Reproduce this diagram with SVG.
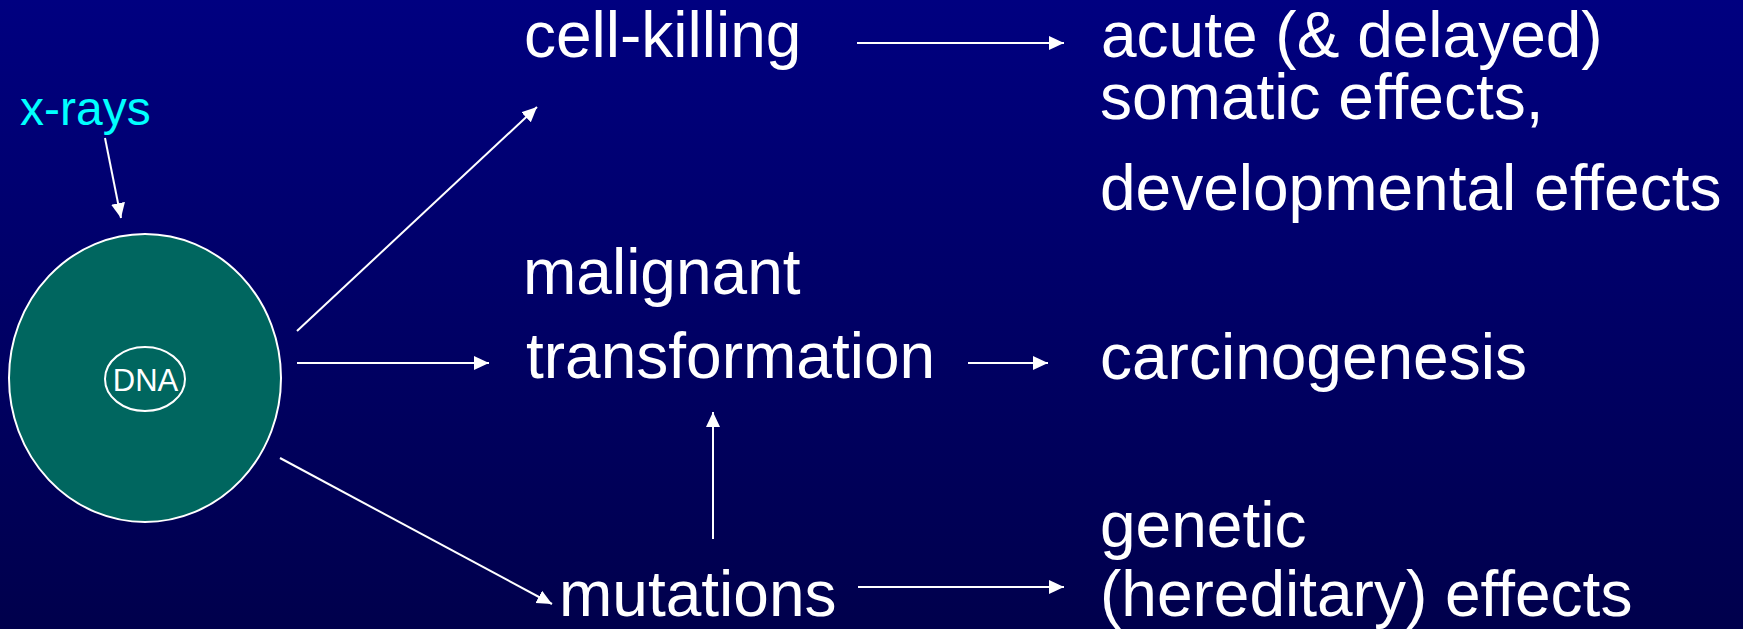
<svg xmlns="http://www.w3.org/2000/svg" width="1743" height="629" viewBox="0 0 1743 629">
  <defs>
    <linearGradient id="bg" x1="0" y1="0" x2="0" y2="1">
      <stop offset="0" stop-color="#000080"/>
      <stop offset="1" stop-color="#00004c"/>
    </linearGradient>
    <marker id="arrow" markerUnits="userSpaceOnUse" markerWidth="16" markerHeight="16" refX="15" refY="7" orient="auto">
      <path d="M0,0 L15,7 L0,14 Z" fill="#ffffff"/>
    </marker>
  </defs>
  <style>
    .lbl { font-family: "Liberation Sans", Arial, sans-serif; font-size: 64px; fill: #ffffff; }
    .conn line { stroke: #ffffff; stroke-width: 2; marker-end: url(#arrow); }
  </style>

  <rect x="0" y="0" width="1743" height="629" fill="url(#bg)"/>

  <!-- radiation source -->
  <g id="xrays">
    <text x="20" y="125" font-family="Liberation Sans, Arial, sans-serif" font-size="48" fill="#00ffff">x-rays</text>
  </g>

  <!-- cell with DNA -->
  <g id="cell">
    <ellipse cx="145" cy="378" rx="136" ry="144" fill="#00665f" stroke="#ffffff" stroke-width="2"/>
    <ellipse cx="145" cy="379" rx="40" ry="32" fill="none" stroke="#ffffff" stroke-width="2"/>
    <text x="145.5" y="391" text-anchor="middle" font-family="Liberation Sans, Arial, sans-serif" font-size="31" fill="#ffffff">DNA</text>
  </g>

  <!-- direct outcomes -->
  <g id="cell-killing"><text class="lbl" x="524" y="57">cell-killing</text></g>
  <g id="transformation">
    <text class="lbl" x="523" y="294">malignant</text>
    <text class="lbl" x="526" y="378">transformation</text>
  </g>
  <g id="mutations"><text class="lbl" x="559" y="616">mutations</text></g>

  <!-- health effects -->
  <g id="somatic">
    <text class="lbl" x="1101" y="57">acute (&amp; delayed)</text>
    <text class="lbl" x="1100" y="119">somatic effects,</text>
    <text class="lbl" x="1100" y="210">developmental effects</text>
  </g>
  <g id="carcinogenesis"><text class="lbl" x="1100" y="379">carcinogenesis</text></g>
  <g id="genetic">
    <text class="lbl" x="1100" y="547">genetic</text>
    <text class="lbl" x="1100" y="616">(hereditary) effects</text>
  </g>

  <!-- connectors -->
  <g id="connectors" class="conn">
    <line x1="105" y1="138" x2="121" y2="218"/>
    <line x1="297" y1="331" x2="537" y2="107"/>
    <line x1="297" y1="363" x2="489" y2="363"/>
    <line x1="280" y1="458" x2="552" y2="604"/>
    <line x1="713" y1="539" x2="713" y2="412"/>
    <line x1="857" y1="43" x2="1064" y2="43"/>
    <line x1="968" y1="363" x2="1048" y2="363"/>
    <line x1="858" y1="587" x2="1064" y2="587"/>
  </g>
</svg>
